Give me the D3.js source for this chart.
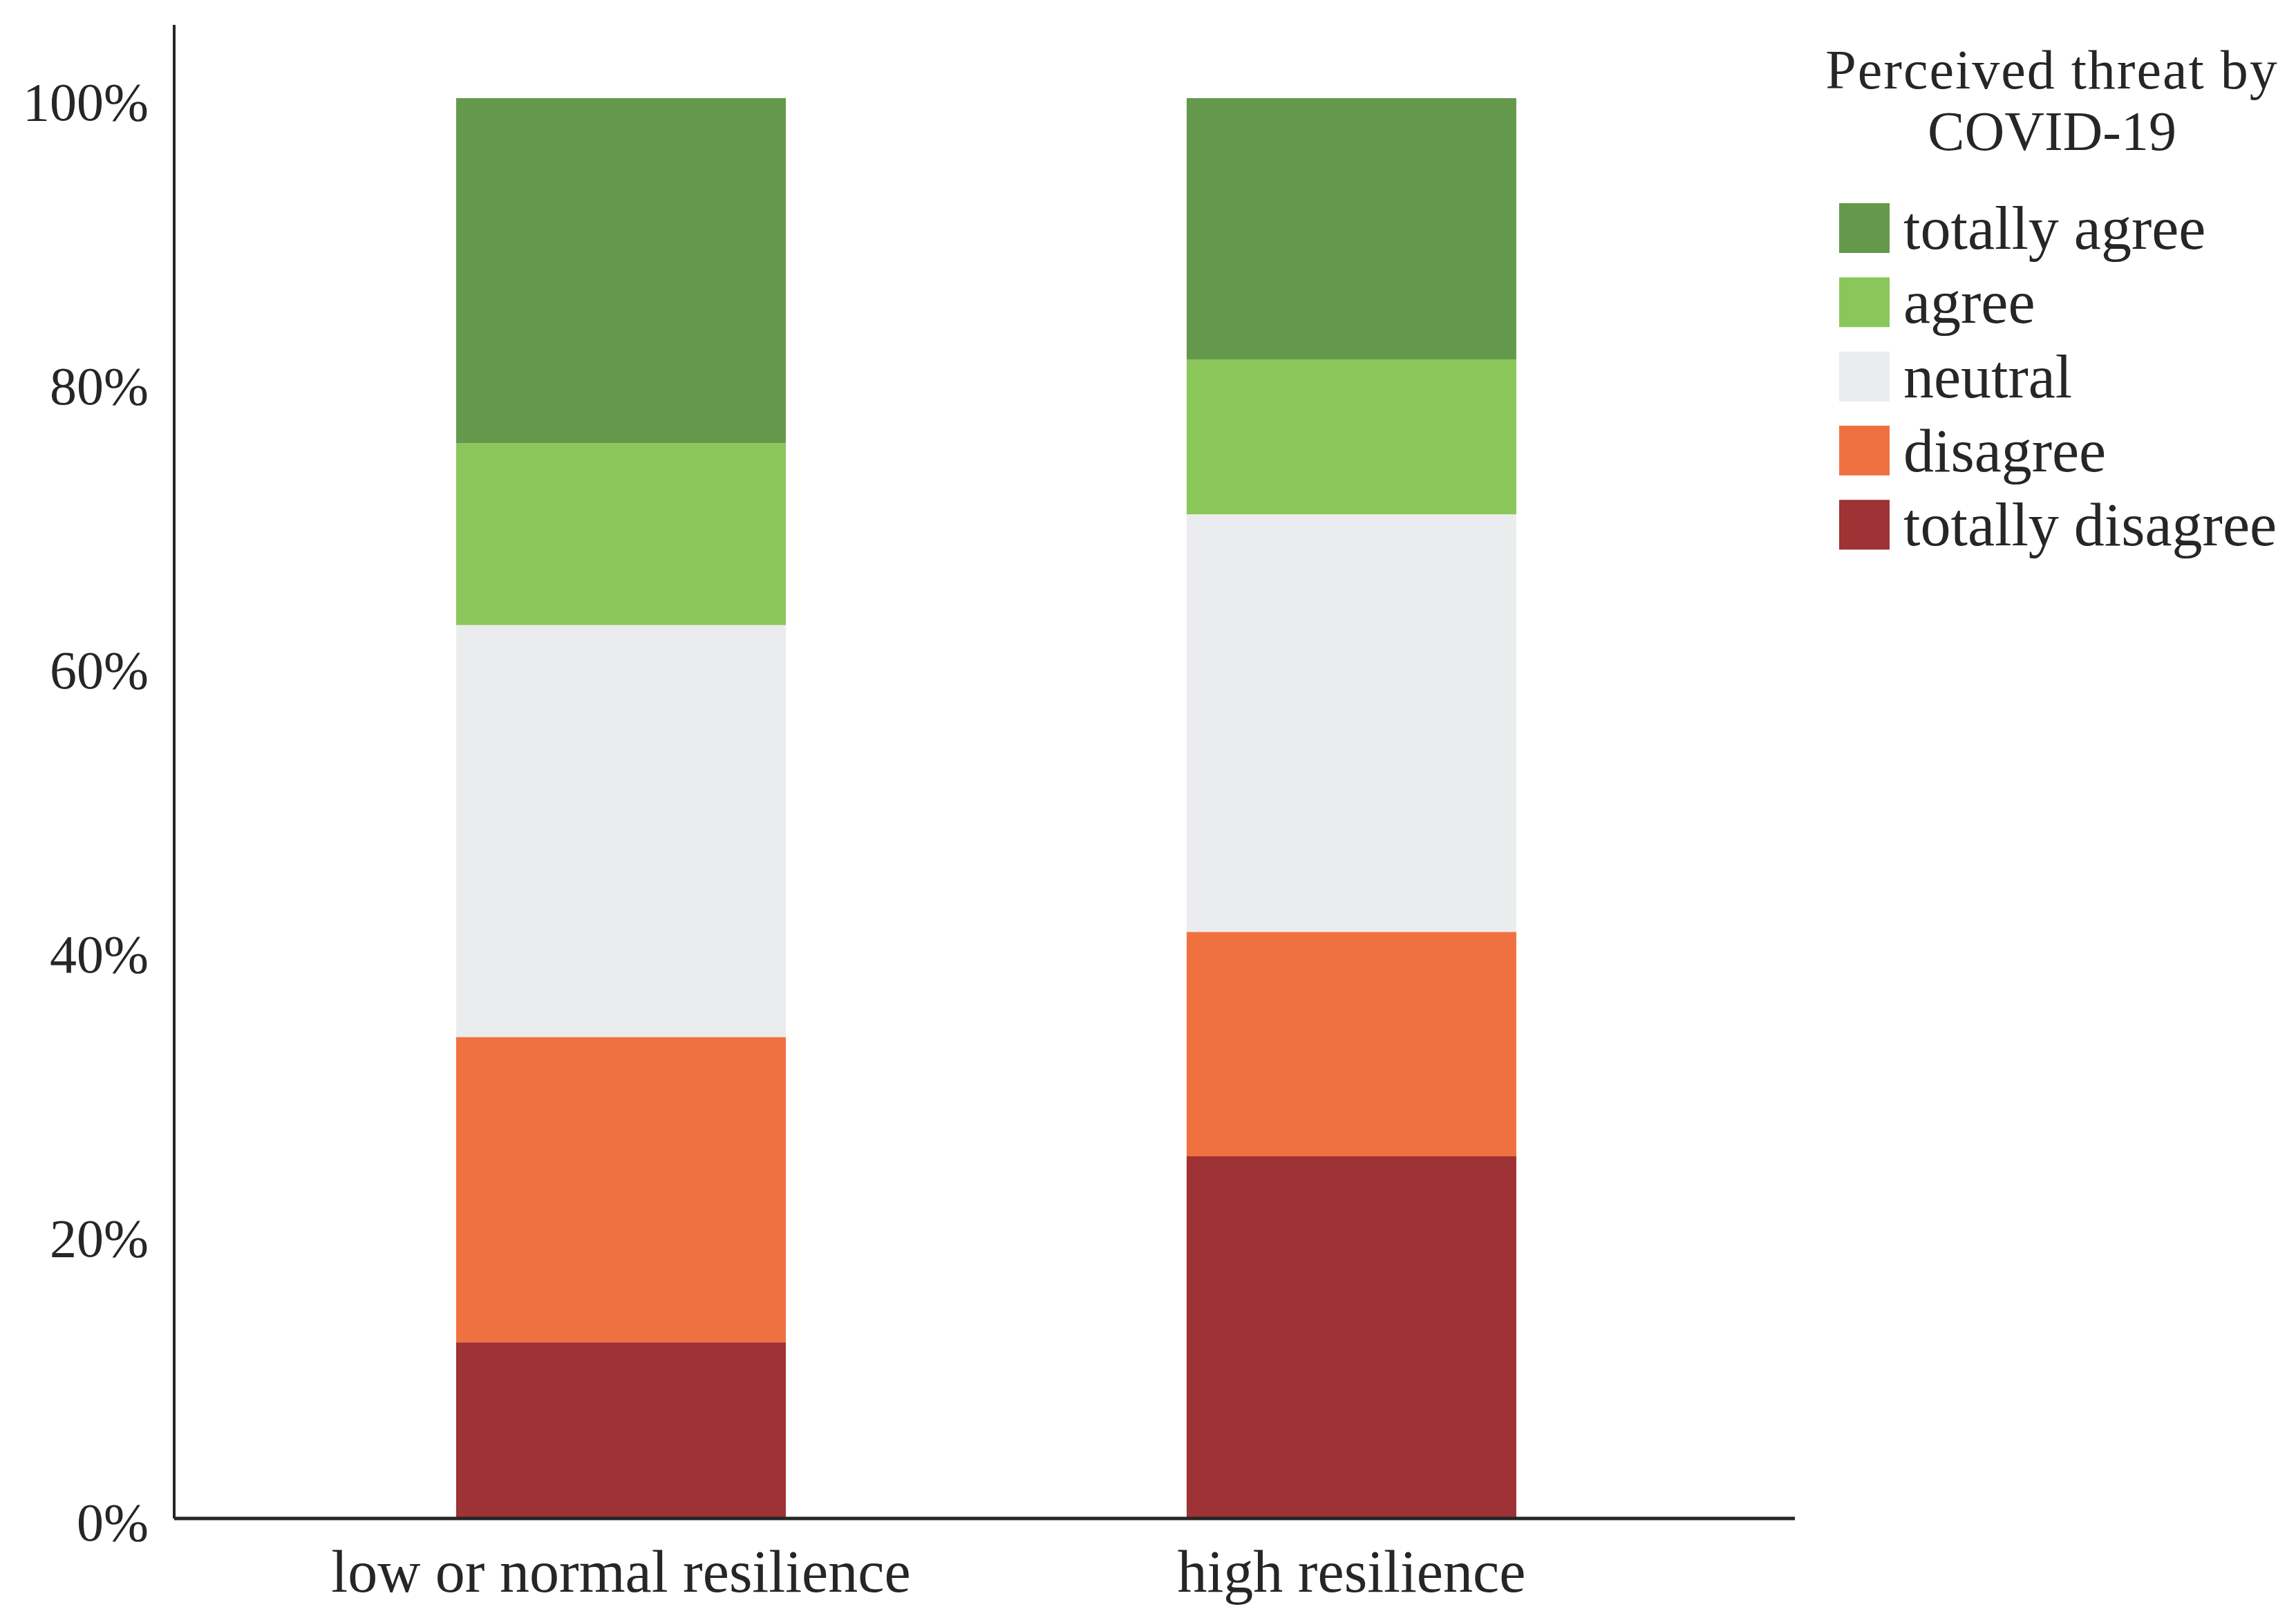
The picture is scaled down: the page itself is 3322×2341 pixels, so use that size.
<!DOCTYPE html>
<html>
<head>
	<meta charset="utf-8">
	<title>Perceived threat by COVID-19</title>
	<script src="https://cdn.jsdelivr.net/npm/d3@7"></script>
</head>
<style>
	body { margin:0; background:#fff; }
	text { font-family:"Liberation Serif", "Times New Roman", serif; fill:#262626; }
</style>
<body>
<svg width="3322" height="2341"></svg>
<script>

	// values, percent of each group
	var groups = ["low or normal resilience", "high resilience"];
	var levels = ["totally disagree", "disagree", "neutral", "agree", "totally agree"];
	var totallyDisagree = [12.4, 25.5];
	var disagree        = [21.5, 15.8];
	var neutral         = [29.0, 29.4];
	var agree           = [12.8, 10.9];
	var totallyAgree    = [24.3, 18.4];
	var yTicks = [0, 20, 40, 60, 80, 100];
	var legendTitle = ["Perceived threat by", "COVID-19"];
	var colors = ["#9e3234", "#f07140", "#ebecee", "#8bc65a", "#64994c"];

	var svg = d3.select("svg");
	var margin = {top:142, left:252, bottom:144, right:725};
	var width = +svg.attr("width") - margin.left - margin.right;
	var height = +svg.attr("height") - margin.top - margin.bottom;

	var rows = groups.map(function(g, i){
		return {group:g,
			"totally disagree":totallyDisagree[i],
			"disagree":disagree[i],
			"neutral":neutral[i],
			"agree":agree[i],
			"totally agree":totallyAgree[i]};
	});

	var series = d3.stack().keys(levels)(rows);

	var x = d3.scaleBand()
			  .domain(groups)
			  .range([0, width])
			  .paddingInner(0.5487)
			  .paddingOuter(0.3837)
			  .align(0.503);

	var y = d3.scaleLinear()
			  .domain([0, 100])
			  .range([height, 0]);

	var color = d3.scaleOrdinal().domain(levels).range(colors);

	var g = svg.append("g")
			   .attr("transform", "translate(" + margin.left + "," + margin.top + ")");

	g.append("g").selectAll("g")
		.data(series)
		.enter()
		.append("g")
		.attr("fill", function(d){ return color(d.key); })
		.selectAll("rect")
		.data(function(d){ return d; })
		.enter()
		.append("rect")
		.attr("x", function(d){ return x(d.data.group); })
		.attr("width", x.bandwidth())
		.attr("y", function(d){ return y(d[1]); })
		.attr("height", function(d){ return y(d[0]) - y(d[1]); });

	// axes
	var yAxis = g.append("g")
		.call(d3.axisLeft(y).tickValues(yTicks).tickSize(0).tickPadding(37)
			.tickFormat(function(d){ return d + "%"; }));
	yAxis.select(".domain").remove();
	yAxis.selectAll("text").attr("font-size", 78).attr("dy", "0.41em");

	g.append("line")
		.attr("x1", 0).attr("x2", 0)
		.attr("y1", -106).attr("y2", height)
		.attr("stroke", "#262626").attr("stroke-width", 4);

	var xAxis = g.append("g")
		.attr("transform", "translate(0," + height + ")")
		.call(d3.axisBottom(x).tickSize(0).tickPadding(45));
	xAxis.select(".domain").remove();
	xAxis.selectAll("text").attr("font-size", 86);

	g.append("line")
		.attr("x1", 0).attr("x2", width)
		.attr("y1", height).attr("y2", height)
		.attr("stroke", "#262626").attr("stroke-width", 5);

	// legend
	var legend = svg.append("g").attr("transform", "translate(2661,0)");

	legend.selectAll("text.title")
		.data(legendTitle)
		.enter()
		.append("text")
		.attr("class", "title")
		.attr("x", 308)
		.attr("y", function(d, i){ return 128 + i * 89; })
		.attr("text-anchor", "middle")
		.attr("font-size", 80)
		.attr("letter-spacing", function(d, i){ return i === 0 ? 2 : 0; })
		.text(function(d){ return d; });

	var item = legend.selectAll("g.item")
		.data(levels.slice().reverse())
		.enter()
		.append("g")
		.attr("class", "item")
		.attr("transform", function(d, i){ return "translate(0," + (294 + i * 107.3) + ")"; });

	item.append("rect")
		.attr("width", 73)
		.attr("height", 72)
		.attr("fill", function(d){ return color(d); });

	item.append("text")
		.attr("x", 93)
		.attr("y", 66)
		.attr("font-size", 88)
		.text(function(d){ return d; });

</script>
</body>
</html>
